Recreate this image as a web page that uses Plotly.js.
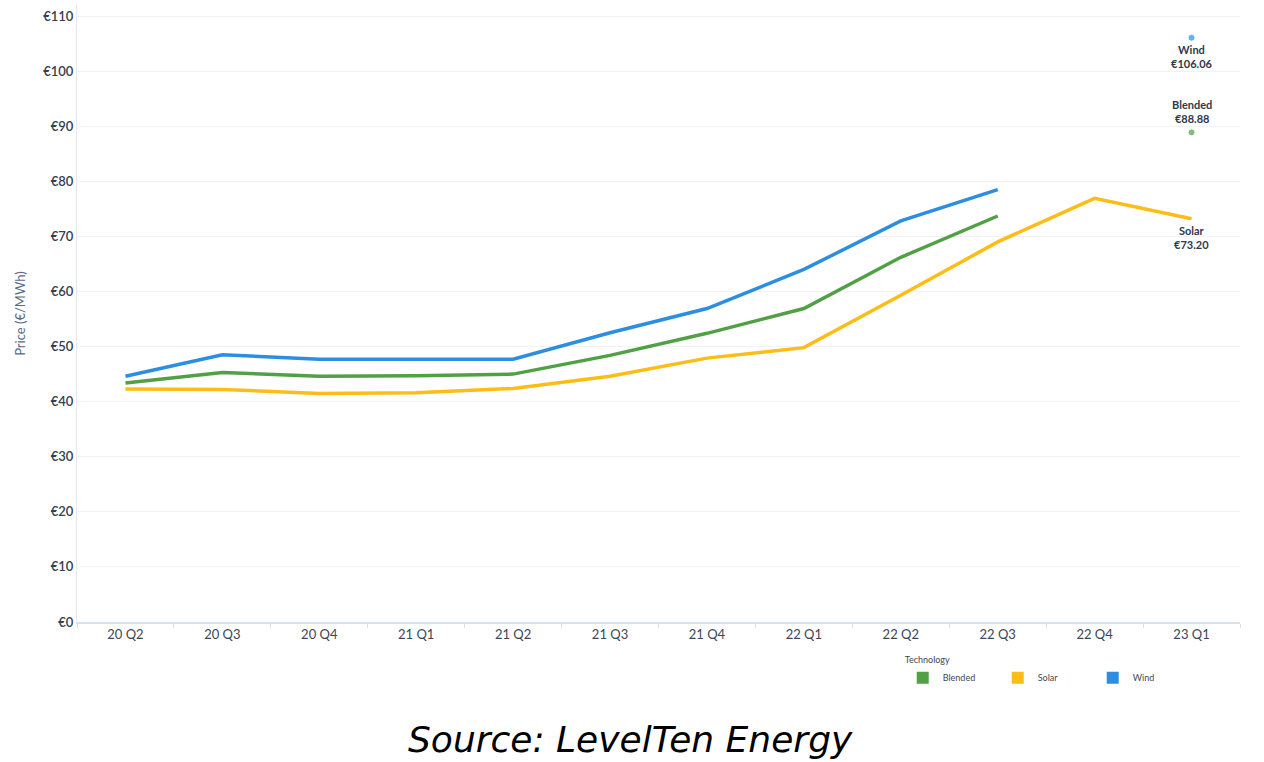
<!DOCTYPE html>
<html>
<head>
<meta charset="utf-8">
<script src="https://cdn.plot.ly/plotly-3.0.1.min.js"></script>
<style>html,body{margin:0;padding:0;background:#fff;}#chart{width:1264px;height:762px;}</style>
</head>
<body>
<div id="chart"></div>
<script>
const quarters = ["20 Q2","20 Q3","20 Q4","21 Q1","21 Q2","21 Q3","21 Q4","22 Q1","22 Q2","22 Q3","22 Q4","23 Q1"];
const blended = [43.4, 45.3, 44.6, 44.7, 45.0, 48.4, 52.4, 56.9, 66.2, 73.7, null, 88.88];
const solar   = [42.3, 42.2, 41.5, 41.6, 42.4, 44.6, 47.9, 49.8, 59.3, 69.0, 76.9, 73.20];
const wind    = [44.6, 48.5, 47.7, 47.7, 47.7, 52.5, 56.9, 64.0, 72.8, 78.5, null, 106.06];
const yTicks  = [0,10,20,30,40,50,60,70,80,90,100,110];
const yTickText = yTicks.map(v => "€" + v);

const colors = {Blended:"#52a046", Solar:"#fdbd16", Wind:"#2b8ee0"};
const series = [["Blended", blended], ["Solar", solar], ["Wind", wind]];

function sizes(arr){
  return arr.map((v,i)=> (v!==null && i>0 && arr[i-1]===null) ? 7 : 0);
}

const traces = [];
series.forEach(([name, arr]) => {
  traces.push({
    x: quarters, y: arr, type: "scatter", mode: "lines+markers",
    line: {color: colors[name], width: 3.5},
    marker: {color: colors[name], size: sizes(arr)},
    connectgaps: false, showlegend: false, hoverinfo: "skip", cliponaxis: false
  });
});
// legend entries (square swatches)
series.forEach(([name]) => {
  traces.push({x:[null], y:[null], type:"bar", name:name, marker:{color:colors[name]}, showlegend:true, hoverinfo:"skip"});
});

const last = quarters.length - 1;
const annFont = {family:"Lato, sans-serif", size:11, color:"#2d3a4b"};
const annotations = [
  {x: quarters[last], y: wind[last], xref:"x", yref:"y", text:"<b>Wind</b><br><b>€" + wind[last].toFixed(2) + "</b>", showarrow:false, yanchor:"top", yshift:-3, font:annFont, align:"center"},
  {x: quarters[last], y: blended[last], xref:"x", yref:"y", text:"<b>Blended</b><br><b>€" + blended[last].toFixed(2) + "</b>", showarrow:false, yanchor:"bottom", yshift:5, font:annFont, align:"center"},
  {x: quarters[last], y: solar[last], xref:"x", yref:"y", text:"<b>Solar</b><br><b>€" + solar[last].toFixed(2) + "</b>", showarrow:false, yanchor:"top", yshift:-3, font:annFont, align:"center"},
  {x: 0.476, y: -0.191, xref:"paper", yref:"paper", text:"<i>Source: LevelTen Energy</i>", showarrow:false, xanchor:"center", yanchor:"middle", font:{family:"DejaVu Sans, sans-serif", size:36, color:"#000"}}
];

const layout = {
  width: 1264, height: 762,
  margin: {l:77, r:24, t:5, b:140},
  paper_bgcolor:"#fff", plot_bgcolor:"#fff",
  showlegend: true,
  legend: {orientation:"h", x:0.710, y:-0.048, xanchor:"left", yanchor:"top",
    font:{family:"Lato, sans-serif", size:9, color:"#3c4858"},
    title:{text:"Technology", side:"top", font:{family:"Lato, sans-serif", size:9, color:"#3c4858"}},
    entrywidth: 50, itemwidth: 30, bgcolor:"rgba(0,0,0,0)"},
  xaxis: {type:"category", categoryorder:"array", categoryarray:quarters, range:[-0.5, 11.5],
    showgrid:false, showline:true, linecolor:"#dbe1e8", linewidth:1.5,
    ticks:"outside", tickson:"boundaries", ticklen:4, tickcolor:"#dbe1e8",
    tickfont:{family:"Lato, sans-serif", size:13, color:"#3a4657"}, zeroline:false, fixedrange:true},
  yaxis: {range:[0, 112], tickvals:yTicks, ticktext:yTickText,
    showgrid:true, gridcolor:"#f1f2f4", gridwidth:1, zeroline:false,
    showline:true, linecolor:"#e3e8ee", linewidth:1, ticks:"",
    tickfont:{family:"Lato, sans-serif", size:13, color:"#34404f", weight:600},
    title:{text:"Price (€/MWh)", font:{family:"Lato, sans-serif", size:13, color:"#5a6b80"}, standoff:14}},
  annotations: annotations,
  barmode: "group"
};

Plotly.newPlot("chart", traces, layout, {displayModeBar:false, staticPlot:true});
</script>
</body>
</html>
